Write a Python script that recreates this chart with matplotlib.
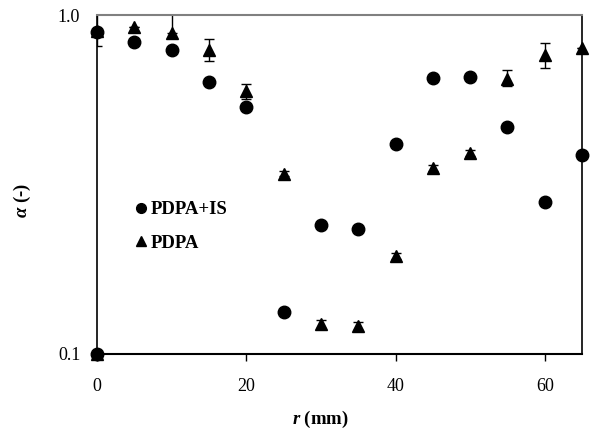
import matplotlib
matplotlib.use("Agg")
import matplotlib.pyplot as plt
import numpy as np

plt.rcParams['font.family'] = ['Liberation Serif', 'DejaVu Serif']
plt.rcParams['mathtext.fontset'] = 'custom'
plt.rcParams['mathtext.it'] = 'Liberation Serif:italic:bold'
plt.rcParams['mathtext.bf'] = 'Liberation Serif:bold'

# PDPA+IS (circles)
r_is = [0, 0, 5, 10, 15, 20, 25, 30, 35, 40, 45, 50, 55, 60, 65]
a_is = [0.1, 0.89, 0.83, 0.79, 0.634, 0.535, 0.133, 0.240, 0.234, 0.416, 0.652, 0.656, 0.467, 0.281, 0.386]

# PDPA (triangles) with error bars
r_p = [0, 0, 5, 10, 15, 20, 25, 30, 35, 40, 45, 50, 55, 60, 65]
a_p = [0.1, 0.90, 0.92, 0.885, 0.79, 0.597, 0.34, 0.1226, 0.121, 0.195, 0.354, 0.392, 0.647, 0.762, 0.80]
err_lo = [0, 0.09, 0.0, 0.0, 0.06, 0.032, 0.006, 0.003, 0.003, 0.004, 0.007, 0.008, 0.03, 0.062, 0.0]
err_hi = [0, 0.15, 0.0, 0.12, 0.06, 0.029, 0.006, 0.003, 0.003, 0.004, 0.007, 0.008, 0.041, 0.065, 0.0]

fig = plt.figure(figsize=(5.91, 4.30), dpi=100)
ax = fig.add_axes([0.164, 0.177, 0.821, 0.788])

ax.errorbar(r_p, a_p, yerr=[err_lo, err_hi], fmt='none', ecolor='black',
            elinewidth=1, capsize=3.5, capthick=1, zorder=2)
ax.plot(r_is, a_is, 'o', color='black', markersize=9, clip_on=False,
        zorder=3, label='PDPA+IS')
ax.plot(r_p, a_p, '^', color='black', markersize=9, clip_on=False,
        zorder=3, label='PDPA')

ax.set_yscale('log')
ax.set_ylim(0.1, 1.0)
ax.set_xlim(0, 65)
ax.set_yticks([0.1, 1.0])
ax.set_yticklabels(['0.1', '1.0'])
ax.yaxis.set_minor_locator(matplotlib.ticker.NullLocator())
ax.set_xticks([0, 20, 40, 60])

ax.tick_params(axis='y', length=0, pad=12, labelsize=13)
ax.tick_params(axis='x', direction='out', length=5, width=1, pad=12.5, labelsize=13)

ax.spines['top'].set_color('#808080')
ax.spines['top'].set_linewidth(1.5)
ax.spines['bottom'].set_linewidth(1.5)
ax.spines['left'].set_linewidth(1.2)
ax.spines['right'].set_linewidth(1.2)

ax.set_xlabel(r'$\mathit{r}$ (mm)', fontsize=13.5, fontweight='bold')
ax.set_ylabel(r'$\mathit{\alpha}$ (-)', fontsize=13.5, fontweight='bold')
ax.xaxis.set_label_coords(0.46, -0.162)
ax.yaxis.set_label_coords(-0.132, 0.454)

leg = ax.legend(loc='upper left', bbox_to_anchor=(0.045, 0.5), frameon=False,
                handlelength=0.6, handletextpad=0.2, markerscale=0.78,
                labelspacing=0.85, prop={'family': 'Liberation Serif', 'weight': 'bold', 'size': 13.5})

fig.savefig('out.png', dpi=100)
